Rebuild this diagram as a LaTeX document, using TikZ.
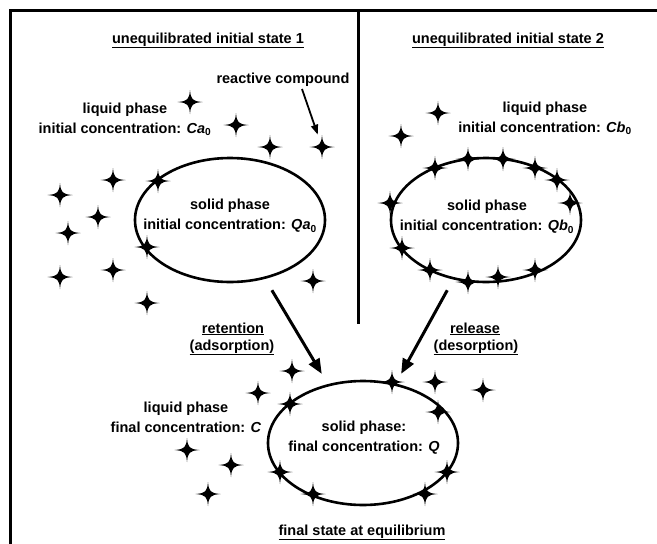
\documentclass[tikz,border=0pt]{standalone}
\usepackage{fontspec}
\setmainfont{Liberation Sans}
\usetikzlibrary{shapes.geometric,arrows.meta,calc}
\begin{document}
\begin{tikzpicture}[x=1pt,y=-1pt,
  txt/.style={font=\bfseries\fontsize{14.5}{20}\selectfont, align=center, inner sep=0pt},
  phase/.style={draw, ellipse, line width=2.6pt, minimum width=190pt, minimum height=124pt, inner sep=0pt},
  thick3/.style={line width=3pt},
  bigarr/.style={line width=3pt, -{Triangle[length=15pt,width=12pt]}},
  smallarr/.style={line width=1.8pt, -{Triangle[length=10pt,width=7pt]}},
  spark/.pic={\fill (0,-12) .. controls (0.9,-2.4) and (2.4,-0.9) .. (12.5,0) .. controls (2.4,0.9) and (0.9,2.4) .. (0,12) .. controls (-0.9,2.4) and (-2.4,0.9) .. (-12.5,0) .. controls (-2.4,-0.9) and (-0.9,-2.4) .. cycle;}
]
\useasboundingbox (0,0) rectangle (657,544);
% frame and divider
\draw[thick3] (10,545) -- (10,10) -- (658,10);
\coordinate (divtop) at (358,11);
\coordinate (divbot) at (358,324);
\draw[thick3] (divtop) -- (divbot);

% titles
\node[txt, anchor=base] (t1) at (208,43) {\underline{unequilibrated initial state 1}};
\node[txt, anchor=base] (t2) at (508,43) {\underline{unequilibrated initial state 2}};
\node[txt, anchor=base] (t3) at (362,535) {\underline{final state at equilibrium}};

% ellipses
\node[phase] (ellA) at (230,220) {};
\node[phase] (ellB) at (486,220) {};
\node[phase] (ellC) at (363,443) {};

% texts
\node[txt] (liqA) at (125,119) {liquid phase\\initial concentration: \textit{Ca}\textsubscript{0}};
\node[txt] (liqB) at (545,118) {liquid phase\\initial concentration: \textit{Cb}\textsubscript{0}};
\node[txt] (solA) at (230,216) {solid phase\\initial concentration: \textit{Qa}\textsubscript{0}};
\node[txt] (solB) at (487,217) {solid phase\\initial concentration: \textit{Qb}\textsubscript{0}};
\node[txt] (solC) at (364,438) {solid phase:\\final concentration: \textit{Q}};
\node[txt] (liqC) at (186,417) {liquid phase\\final concentration: \textit{C}};

\node[txt, anchor=base] (ret1) at (233,333) {\underline{retention}};
\node[txt, anchor=base] (ret2) at (232,350) {\underline{(adsorption)}};
\node[txt, anchor=base] (rel1) at (475,333) {\underline{release}};
\node[txt, anchor=base] (rel2) at (476,350) {\underline{(desorption)}};

\node[txt, anchor=base] (rc) at (283,83) {reactive compound};

% stars
\coordinate (rcstar) at (322,147);
\foreach \p in {(190,102),(236,125),(270,147),(322,147),
  (113,180),(158,181),(60,195),(98,217),(68,233),(147,247),(113,270),(60,277),(147,303),(313,281),
  (438,113),(401,136),
  (435,168),(468,159),(503,159),(535,168),(557,180),(570,203),(390,203),(402,248),(430,270),(468,282),(498,277),(535,270),
  (292,371),(258,393),(290,404),(392,382),(435,382),(483,390),(438,412),(187,450),(231,465),(208,494),(280,472),(313,494),(425,494),(447,472)}
  \pic at \p {spark};

% arrows
\coordinate (rcstart) at (302,89);
\draw[smallarr, shorten >=13pt] (rcstart) -- (rcstar);
\draw[bigarr] ($(ellA)!0.315!(ellC)$) -- ($(ellA)!0.69!(ellC)$);
\draw[bigarr] ($(ellB)!0.315!(ellC)$) -- ($(ellB)!0.69!(ellC)$);
\end{tikzpicture}
\end{document}
